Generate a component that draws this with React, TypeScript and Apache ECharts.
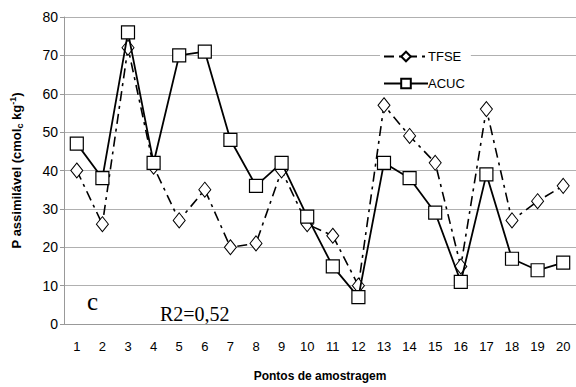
import React, { useEffect, useRef } from "react";
import * as echarts from "echarts";

const categories = ["1","2","3","4","5","6","7","8","9","10","11","12","13","14","15","16","17","18","19","20"];
const tfse = [40, 26, 72, 41, 27, 35, 20, 21, 40, 26, 23, 10, 57, 49, 42, 15, 56, 27, 32, 36];
const acuc = [47, 38, 76, 42, 70, 71, 48, 36, 42, 28, 15, 7, 42, 38, 29, 11, 39, 17, 14, 16];

export default function App() {
  const ref = useRef<HTMLDivElement>(null);
  useEffect(() => {
    const chart = echarts.init(ref.current!, null, { renderer: "svg" });
    const sans = "Liberation Sans, Arial, sans-serif";
    chart.setOption({
      animation: false,
      backgroundColor: "#ffffff",
      grid: { left: 60, right: -4, top: 17, bottom: 60 },
      legend: {
        orient: "vertical",
        left: 380,
        top: 47,
        itemWidth: 44,
        itemHeight: 12,
        itemGap: 14,
        backgroundColor: "#ffffff",
        padding: [3, 6, 3, 3],
        textStyle: { fontFamily: sans, fontSize: 13, color: "#000", padding: [0, 0, 0, -5] },
        data: ["TFSE", "ACUC"],
      },
      xAxis: {
        type: "category",
        data: categories,
        boundaryGap: true,
        name: "Pontos de amostragem",
        nameLocation: "middle",
        nameGap: 46,
        nameTextStyle: { fontFamily: sans, fontSize: 12, fontWeight: "bold", color: "#000" },
        axisLine: { show: true, lineStyle: { color: "#999", width: 1 } },
        axisTick: { show: false },
        axisLabel: { fontFamily: sans, fontSize: 13, color: "#000", margin: 16 },
      },
      yAxis: {
        type: "value",
        min: 0,
        max: 80,
        interval: 10,
        name: "P assimilável (cmol{sub|c} kg{sup|-1})",
        nameLocation: "middle",
        nameGap: 40,
        nameRotate: 90,
        nameTextStyle: {
          fontFamily: sans, fontSize: 13, fontWeight: "bold", color: "#000",
          rich: {
            sub: { fontFamily: sans, fontSize: 9, fontWeight: "bold", color: "#000", verticalAlign: "bottom", padding: [7, 0, 0, 0] },
            sup: { fontFamily: sans, fontSize: 9, fontWeight: "bold", color: "#000", verticalAlign: "top", padding: [0, 0, 7, 0] },
          },
        },
        axisLine: { show: true, lineStyle: { color: "#999", width: 1 } },
        axisTick: { show: true, length: 4, lineStyle: { color: "#999" } },
        axisLabel: { fontFamily: sans, fontSize: 14, color: "#000", margin: 6 },
        splitLine: { show: true, lineStyle: { color: "#b0b0b0", width: 1 } },
      },
      series: [
        {
          name: "TFSE",
          type: "line",
          data: tfse,
          symbol: "diamond",
          symbolSize: [12, 15],
          showAllSymbol: true,
          lineStyle: { color: "#000", width: 1.6, type: [10, 5, 3, 5] },
          itemStyle: { color: "#fff", borderColor: "#000", borderWidth: 1 },
          z: 3,
        },
        {
          name: "ACUC",
          type: "line",
          data: acuc,
          symbol: "rect",
          symbolSize: 13,
          showAllSymbol: true,
          lineStyle: { color: "#000", width: 1.8 },
          itemStyle: { color: "#fff", borderColor: "#000", borderWidth: 1.2 },
          z: 4,
        },
      ],
      graphic: [
        { type: "text", left: 87, top: 289, style: { text: "c", fontFamily: "Liberation Serif, Times New Roman, serif", fontSize: 25, fill: "#000" } },
        { type: "text", left: 160, top: 304, style: { text: "R2=0,52", fontFamily: "Liberation Serif, Times New Roman, serif", fontSize: 20, fill: "#000" } },
      ],
    });
    return () => chart.dispose();
  }, []);
  return <div ref={ref} style={{ width: 576, height: 387, position: "absolute", left: 0, top: 0 }} />;
}
